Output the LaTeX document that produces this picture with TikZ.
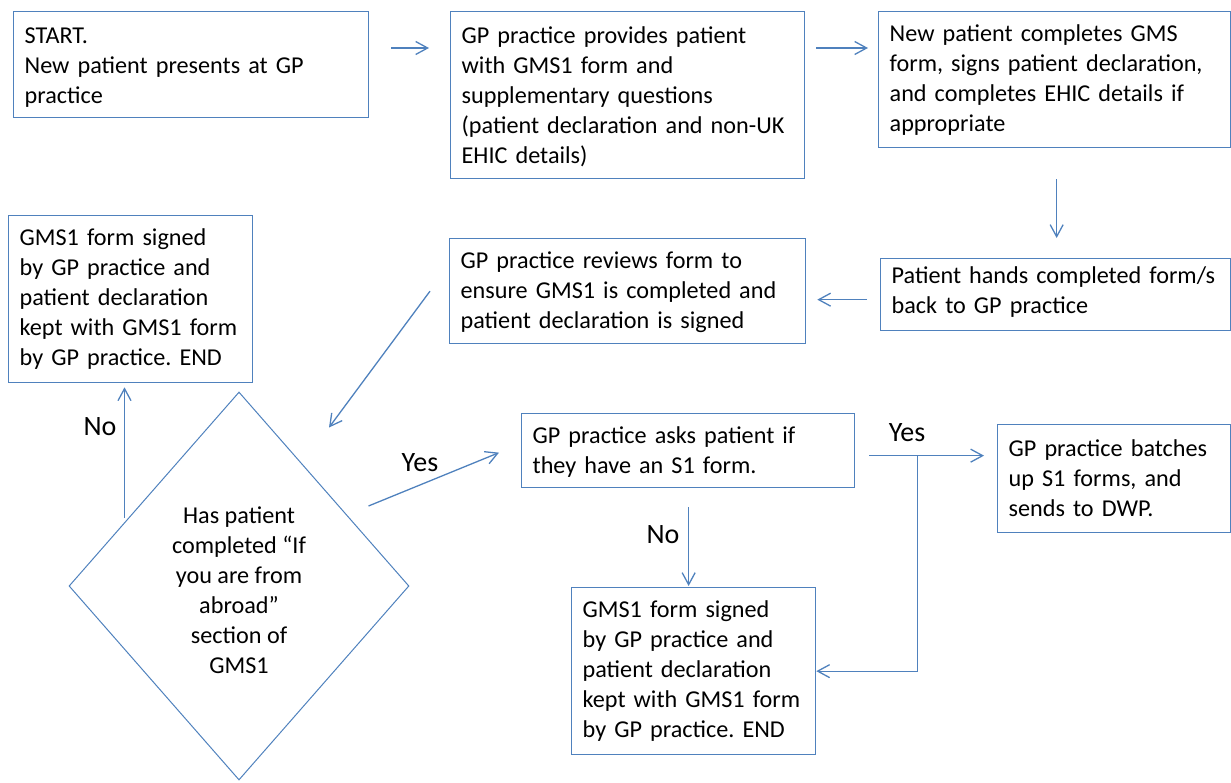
\documentclass[tikz,border=0pt]{standalone}
\usepackage{fontspec}
\setmainfont{Carlito}
\usetikzlibrary{arrows.meta,shapes.geometric}
\definecolor{lineblue}{RGB}{79,129,189}
\frenchspacing

\begin{document}
\begin{tikzpicture}[x=1pt,y=-1pt,
    procbox/.style={draw=lineblue, line width=1.3pt, anchor=north west, align=left,
        inner xsep=11pt, inner ysep=12pt, text height=18pt, font=\fontsize{24.2pt}{30pt}\selectfont},
    flow/.style={draw=lineblue, line width=1.3pt, -{Straight Barb[length=12pt,width=13pt]}},
    lbl/.style={font=\fontsize{28pt}{32pt}\selectfont}]
    \useasboundingbox (0,0) rectangle (1231,782);

    % top row
    \node[procbox, text width=333pt, inner ysep=14pt, text depth=60pt] (start) at (13,11)
        {START.\\New patient presents at GP\\practice};
    \node[procbox, text width=332pt, inner ysep=14pt, text depth=121pt] (provide) at (450,11)
        {GP practice provides patient\\with GMS1 form and\\supplementary questions\\(patient declaration and non-UK\\EHIC details)};
    \node[procbox, text width=330pt, text depth=94pt] (complete) at (878,11)
        {New patient completes GMS\\form, signs patient declaration,\\and completes EHIC details if\\appropriate};

    % second row
    \node[procbox, text width=328pt, inner ysep=7pt, text depth=40pt] (hand) at (880,258)
        {Patient hands completed form/s\\back to GP practice};
    \node[procbox, text width=334pt, text depth=63pt] (review) at (449,238)
        {GP practice reviews form to\\ensure GMS1 is completed and\\patient declaration is signed};
    \node[procbox, text width=222pt, text depth=125pt] (signedL) at (8,215)
        {GMS1 form signed\\by GP practice and\\patient declaration\\kept with GMS1 form\\by GP practice. END};

    % decision
    \node[draw=lineblue, line width=1pt, shape=diamond, minimum width=340pt, minimum height=388pt,
        inner sep=0pt, align=center, font=\fontsize{24.2pt}{30pt}\selectfont] (decide) at (239,586)
        {\rule{0pt}{26pt}Has patient\\completed “If\\you are from\\abroad”\\section of\\GMS1};

    % S1 branch
    \node[procbox, text width=311pt, text depth=32pt] (ask) at (521,413)
        {GP practice asks patient if\\they have an S1 form.};
    \node[procbox, text width=211pt, inner ysep=14pt, text depth=62pt] (batch) at (997,424)
        {GP practice batches\\up S1 forms, and\\sends to DWP.};
    \node[procbox, text width=222pt, text depth=125pt] (signedR) at (571,587)
        {GMS1 form signed\\by GP practice and\\patient declaration\\kept with GMS1 form\\by GP practice. END};

    % labels
    \node[lbl] (noL) at (100,427) {No};
    \node[lbl] (yesA) at (420,463) {Yes};
    \node[lbl] (yesB) at (907,433) {Yes};
    \node[lbl] (noR) at (663,535) {No};

    % arrows
    \draw[flow] ([shift={(22,37)}]start.north east) -- ([shift={(-21,37)}]provide.north west);
    \draw[flow] ([shift={(11,37)}]provide.north east) -- ([shift={(-10,37)}]complete.north west);
    \draw[flow] ([shift={(2,31)}]complete.south) -- ([shift={(1,-20)}]hand.north);
    \draw[flow] ([shift={(-13,5)}]hand.west) -- ([shift={(11,8.5)}]review.east);
    \draw[flow] ([shift={(-19,0)}]review.west) -- ([shift={(90,36)}]decide.north);
    \coordinate (noFoot) at ([shift={(56,-68)}]decide.west);
    \draw[flow] (noFoot) -- ([yshift=-4pt]noFoot |- signedL.south);
    \draw[flow] ([shift={(-41,-80)}]decide.east) -- ([shift={(-22,2)}]ask.west);
    \draw[flow] ([shift={(14,5)}]ask.east) -- ([shift={(-13,-23)}]batch.west);
    \coordinate (split) at ([shift={(62,5)}]ask.east);
    \draw[flow] (split) |- (signedR.east);
    \coordinate (askFoot) at ([shift={(0.5,19)}]ask.south);
    \draw[flow] (askFoot) -- ([yshift=1pt]askFoot |- signedR.north);
\end{tikzpicture}
\end{document}
